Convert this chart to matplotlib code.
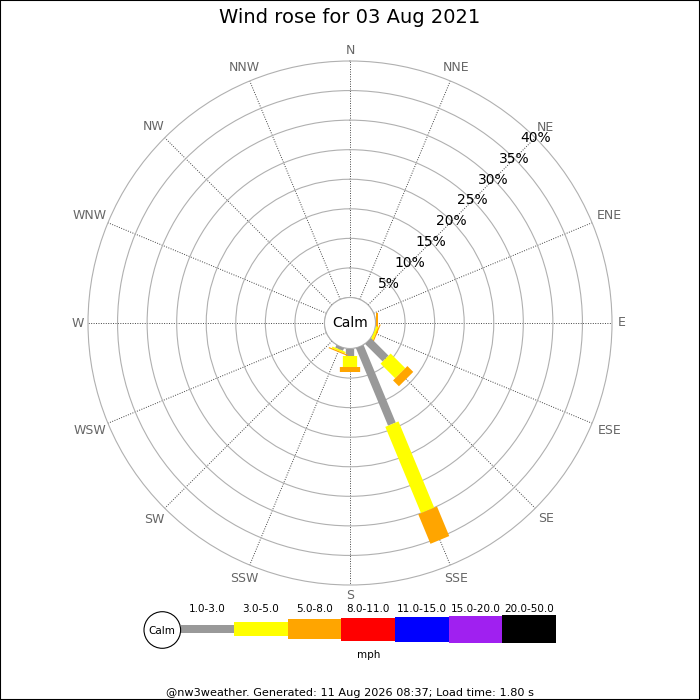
import numpy as np
import matplotlib
matplotlib.use('Agg')
import matplotlib.pyplot as plt
from matplotlib.patches import Circle, Rectangle

# compass directions and the share (%) of each speed band per direction
directions = ['N', 'NNE', 'NE', 'ENE', 'E', 'ESE', 'SE', 'SSE',
              'S', 'SSW', 'SW', 'WSW', 'W', 'WNW', 'NW', 'NNW']
band_1_3 = [0, 0, 0, 0, 0.0, 0.0, 4.2, 14.2, 1.3, 0.5, 0, 0, 0, 0, 0, 0]
band_3_5 = [0, 0, 0, 0, 0.15, 0.4, 3.5, 15.8, 1.8, 0.3, 0, 0, 0, 0, 0, 0]
band_5_8 = [0, 0, 0, 0, 0.25, 0.2, 1.4, 5.4, 0.8, 0.2, 0, 0, 0, 0, 0, 0]

speed_labels = ['1.0-3.0', '3.0-5.0', '5.0-8.0', '8.0-11.0',
                '11.0-15.0', '15.0-20.0', '20.0-50.0']
speed_colors = ['#999999', '#ffff00', '#ffa500', '#ff0000',
                '#0000ff', '#a020f0', '#000000']
bar_px = [8.3, 14.3, 20.3, 23, 25, 27, 28.3]   # bar thickness per band

rings = [5, 10, 15, 20, 25, 30, 35, 40]
rmax = 40
title = 'Wind rose for 03 Aug 2021'
footer = '@nw3weather. Generated: 11 Aug 2026 08:37; Load time: 1.80 s'

fig = plt.figure(figsize=(7, 7), dpi=100)
fig.patch.set_facecolor('white')

# polar axes: centre (350, 323) px, outer radius 262 px, calm radius 25.5 px
R_px, calm_px = 262.0, 25.5
R = R_px / 700.0
cx, cy = 0.5, 1 - 323 / 700.0
ax = fig.add_axes([cx - R, cy - R, 2 * R, 2 * R], projection='polar')
ax.set_theta_zero_location('N')
ax.set_theta_direction(-1)
ax.set_ylim(0, rmax)
rorig = -rmax * calm_px / (R_px - calm_px)
ax.set_rorigin(rorig)


def px_to_r(px):
    return px / R_px * (rmax - rorig) + rorig


theta = np.deg2rad(np.arange(16) * 22.5)
ax.set_xticks(theta)
ax.set_xticklabels([])
ax.set_yticks([0] + rings[:-1])
ax.set_yticklabels([])
ax.xaxis.grid(True, color='#444444', linestyle=(0, (1, 1.5)), linewidth=0.7)
ax.yaxis.grid(True, color='#b0b0b0', linestyle='-', linewidth=0.8)
ax.tick_params(length=0)
for sp in ax.spines.values():
    sp.set_color('#b0b0b0')
    sp.set_linewidth(0.8)

# compass labels, pushed out so the text edge sits just outside the rim
for th, d in zip(theta, directions):
    w = 9.4 * len(d) + (1.5 if 'W' in d else 0)
    rc = 268 + 0.85 * abs(np.sin(th)) * w / 2 + abs(np.cos(th)) * 4.5
    ax.text(th, px_to_r(rc), d, ha='center', va='center', fontsize=9,
            color='#666666')

# percentage labels along NE
for r in rings:
    ax.text(np.pi / 4, r, '%d%%' % r, ha='center', va='center', fontsize=10,
            color='black', zorder=5)

ax.text(0, rorig, 'Calm', ha='center', va='center', fontsize=10, zorder=6)

# stacked bars as constant-width strips
bands = [band_1_3, band_3_5, band_5_8]
base = np.zeros(16)
for k, vals in enumerate(bands):
    vals = np.array(vals, dtype=float)
    for i in range(16):
        if vals[i] > 0:
            ax.plot([theta[i], theta[i]], [base[i], base[i] + vals[i]],
                    color=speed_colors[k], linewidth=bar_px[k] * 0.72,
                    solid_capstyle='butt', zorder=3 + i * 0.01)
    base += vals

fig.text(0.5, 1 - 23.3 / 700, title, ha='center', va='baseline', fontsize=14)

# legend strip
lx0, lx1 = 180.5, 556
lax = fig.add_axes([lx0 / 700, 1 - 645 / 700, (lx1 - lx0) / 700, 32 / 700])
lax.set_xlim(0, len(speed_labels))
lax.set_ylim(-16, 16)
lax.axis('off')
idx = np.arange(len(speed_labels)) + 0.5
h = np.array(bar_px)
lax.bar(idx, h, width=1.0, bottom=-h / 2, color=speed_colors, linewidth=0)
for x, lab in zip(idx, speed_labels):
    lax.text(x, 20, lab, ha='center', va='center', fontsize=7.5, clip_on=False)
lax.text(len(speed_labels) / 2, -26, 'mph', ha='center', va='center',
         fontsize=7.5, clip_on=False)

calm = Circle((162.3 / 100, (700 - 630) / 100), 0.183, transform=fig.dpi_scale_trans,
              facecolor='white', edgecolor='black', linewidth=0.8)
fig.patches.append(calm)
fig.text(162.3 / 700, 1 - 631 / 700, 'Calm', ha='center', va='center', fontsize=7.5)

fig.text(0.5, 1 - 692.5 / 700, footer, ha='center', va='center', fontsize=8.1)

fig.patches.append(Rectangle((0, 0), 1, 1, transform=fig.transFigure, fill=False,
                             edgecolor='black', linewidth=1.5))

fig.savefig('out.png', dpi=100)
